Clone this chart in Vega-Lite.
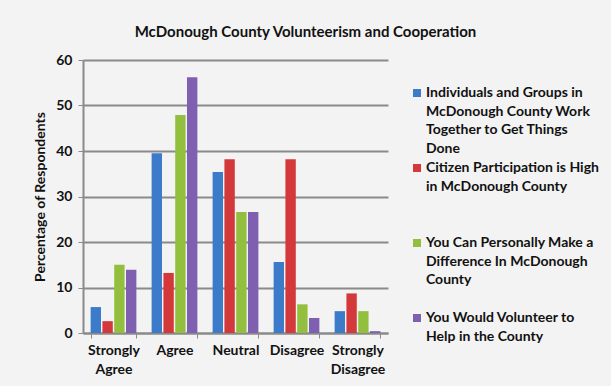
{
  "$schema": "https://vega.github.io/schema/vega-lite/v6.json",
  "width": 305,
  "height": 273,
  "autosize": {"type": "none"},
  "padding": {"left": 83, "top": 60, "right": 223, "bottom": 53},
  "background": "#f3f3f3",
  "title": {
    "text": "McDonough County Volunteerism and Cooperation",
    "font": "Lato",
    "fontSize": 15,
    "fontWeight": "bold",
    "color": "#111111",
    "anchor": "middle",
    "dx": 70,
    "offset": 13
  },
  "data": {
    "values": [
      {"response": "Strongly Agree", "series": "Individuals and Groups in McDonough County Work Together to Get Things Done", "pct": 5.7},
      {"response": "Strongly Agree", "series": "Citizen Participation is High in McDonough County", "pct": 2.6},
      {"response": "Strongly Agree", "series": "You Can Personally Make a Difference In McDonough County", "pct": 15.0},
      {"response": "Strongly Agree", "series": "You Would Volunteer to Help in the County", "pct": 13.9},
      {"response": "Agree", "series": "Individuals and Groups in McDonough County Work Together to Get Things Done", "pct": 39.5},
      {"response": "Agree", "series": "Citizen Participation is High in McDonough County", "pct": 13.2},
      {"response": "Agree", "series": "You Can Personally Make a Difference In McDonough County", "pct": 47.9},
      {"response": "Agree", "series": "You Would Volunteer to Help in the County", "pct": 56.2},
      {"response": "Neutral", "series": "Individuals and Groups in McDonough County Work Together to Get Things Done", "pct": 35.4},
      {"response": "Neutral", "series": "Citizen Participation is High in McDonough County", "pct": 38.2},
      {"response": "Neutral", "series": "You Can Personally Make a Difference In McDonough County", "pct": 26.6},
      {"response": "Neutral", "series": "You Would Volunteer to Help in the County", "pct": 26.6},
      {"response": "Disagree", "series": "Individuals and Groups in McDonough County Work Together to Get Things Done", "pct": 15.6},
      {"response": "Disagree", "series": "Citizen Participation is High in McDonough County", "pct": 38.2},
      {"response": "Disagree", "series": "You Can Personally Make a Difference In McDonough County", "pct": 6.3},
      {"response": "Disagree", "series": "You Would Volunteer to Help in the County", "pct": 3.3},
      {"response": "Strongly Disagree", "series": "Individuals and Groups in McDonough County Work Together to Get Things Done", "pct": 4.8},
      {"response": "Strongly Disagree", "series": "Citizen Participation is High in McDonough County", "pct": 8.7},
      {"response": "Strongly Disagree", "series": "You Can Personally Make a Difference In McDonough County", "pct": 4.8},
      {"response": "Strongly Disagree", "series": "You Would Volunteer to Help in the County", "pct": 0.4}
    ]
  },
  "mark": {"type": "bar"},
  "encoding": {
    "x": {
      "field": "response",
      "type": "nominal",
      "sort": ["Strongly Agree", "Agree", "Neutral", "Disagree", "Strongly Disagree"],
      "scale": {"paddingInner": 0.25, "paddingOuter": 0.125},
      "axis": {
        "title": null,
        "labelAngle": 0,
        "labelExpr": "datum.label == 'Strongly Agree' ? ['Strongly', 'Agree'] : datum.label == 'Strongly Disagree' ? ['Strongly', 'Disagree'] : datum.label",
        "labelFont": "Lato",
        "labelFontSize": 14,
        "labelFontWeight": "bold",
        "labelColor": "#111111",
        "labelLineHeight": 19,
        "labelPadding": 5,
        "tickBand": "extent",
        "tickSize": 5,
        "tickColor": "#8a8a8a",
        "domainColor": "#8a8a8a",
        "domainWidth": 2,
        "labelBaseline": "top"
      }
    },
    "xOffset": {
      "field": "series",
      "type": "nominal",
      "sort": null,
      "scale": {"paddingInner": 0.12}
    },
    "y": {
      "field": "pct",
      "type": "quantitative",
      "scale": {"domain": [0, 60]},
      "axis": {
        "title": "Percentage of Respondents",
        "titleFont": "Lato",
        "titleFontSize": 14,
        "titleFontWeight": "bold",
        "titleColor": "#111111",
        "titlePadding": 8,
        "values": [0, 10, 20, 30, 40, 50, 60],
        "labelFont": "Lato",
        "labelFontSize": 14,
        "labelFontWeight": "bold",
        "labelColor": "#111111",
        "labelPadding": 6,
        "tickSize": 5,
        "tickColor": "#8a8a8a",
        "domainColor": "#8a8a8a",
        "domainWidth": 2,
        "gridColor": "#8a8a8a",
        "gridWidth": 2
      }
    },
    "color": {
      "field": "series",
      "type": "nominal",
      "sort": null,
      "scale": {
        "domain": [
          "Individuals and Groups in McDonough County Work Together to Get Things Done",
          "Citizen Participation is High in McDonough County",
          "You Can Personally Make a Difference In McDonough County",
          "You Would Volunteer to Help in the County"
        ],
        "range": ["#3c7bc9", "#d3393b", "#93bf3e", "#7f5fb0"]
      },
      "legend": {
        "title": null,
        "orient": "none",
        "legendX": 327,
        "legendY": 26,
        "symbolType": "square",
        "symbolSize": 64,
        "symbolStrokeWidth": 0,
        "labelFont": "Lato",
        "labelFontSize": 14,
        "labelFontWeight": "bold",
        "labelColor": "#111111",
        "labelLimit": 300,
        "labelOffset": 2,
        "rowPadding": 4,
        "labelExpr": "datum.label == 'Individuals and Groups in McDonough County Work Together to Get Things Done' ? ['Individuals and Groups in', 'McDonough County Work', 'Together to Get Things', 'Done'] : datum.label == 'Citizen Participation is High in McDonough County' ? ['Citizen Participation is High', 'in McDonough County', ' ', ' '] : datum.label == 'You Can Personally Make a Difference In McDonough County' ? ['You Can Personally Make a', 'Difference In McDonough', 'County', ' '] : ['You Would Volunteer to', 'Help in the County']"
      }
    }
  },
  "config": {
    "view": {"stroke": null, "fill": "#f3f3f3"},
    "axis": {"gridDash": []},
    "style": {"guide-label": {"lineHeight": 18.7}}
  }
}
